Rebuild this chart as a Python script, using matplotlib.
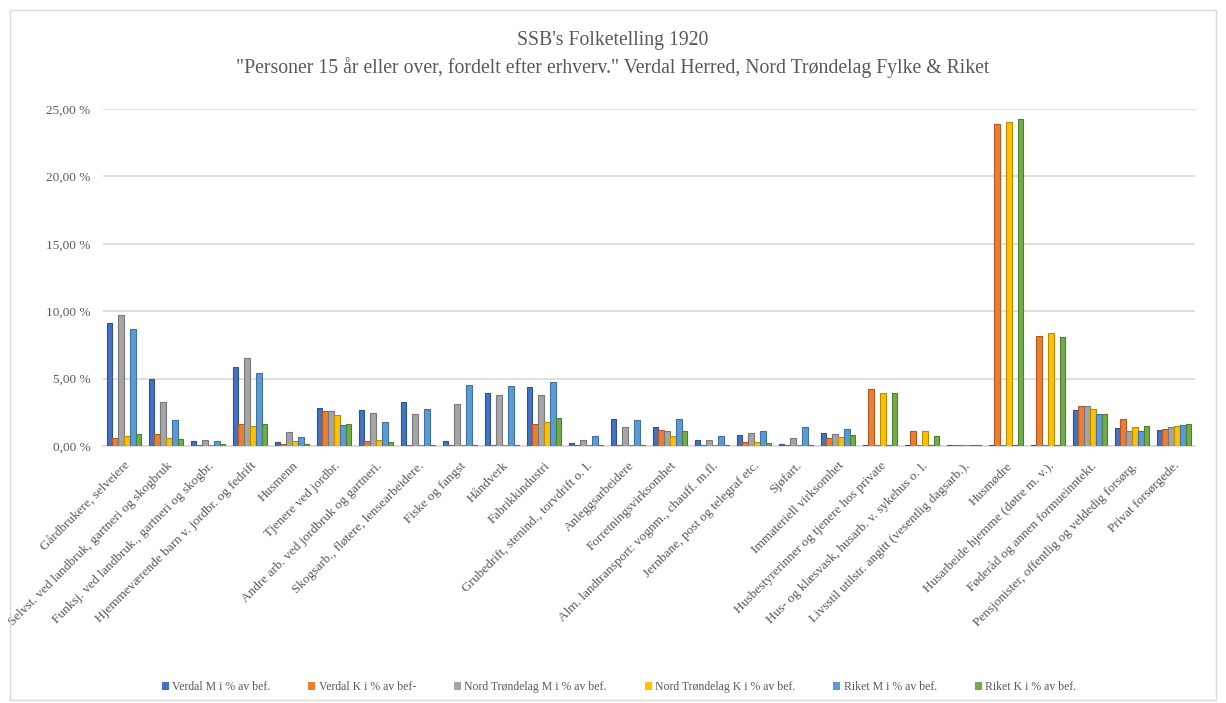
import matplotlib
matplotlib.use("Agg")
import matplotlib.pyplot as plt
import numpy as np
from matplotlib.patches import Rectangle
from matplotlib.ticker import FuncFormatter

categories = [
    "Gårdbrukere, selveiere",
    "Selvst. ved landbruk, gartneri og skogbruk",
    "Funksj. ved landbruk., gartneri og skogbr.",
    "Hjemmeværende barn v. jordbr. og fedrift",
    "Husmenn",
    "Tjenere ved jordbr.",
    "Andre arb. ved jordbruk og gartneri.",
    "Skogsarb., fløtere, lensearbeidere.",
    "Fiske og fangst",
    "Håndverk",
    "Fabrikkindustri",
    "Grubedrift, stenind., torvdrift o. l.",
    "Anleggsarbeidere",
    "Forretningsvirksomhet",
    "Alm. landtransport: vognm., chauff. m.fl.",
    "Jernbane, post og telegraf etc.",
    "Sjøfart.",
    "Immateriell virksomhet",
    "Husbestyrerinner og tjenere hos private",
    "Hus- og klæsvask, husarb. v. sykehus o. l.",
    "Livsstil utilstr. angitt (vesentlig dagsarb.).",
    "Husmødre",
    "Husarbeide hjemme (døtre m. v.).",
    "Føderåd og annen formueinntekt.",
    "Pensjonister, offentlig og veldedig forsørg.",
    "Privat forsørgede.",
]

series_names = [
    "Verdal M i % av bef.",
    "Verdal K i % av bef-",
    "Nord Trøndelag M i % av bef.",
    "Nord Trøndelag K i % av bef.",
    "Riket M i % av bef.",
    "Riket K i % av bef.",
]

verdal_m = [9.1, 5.0, 0.35, 5.85, 0.33, 2.85, 2.65, 3.25, 0.37, 3.95, 4.35, 0.24, 2.0,
            1.43, 0.47, 0.8, 0.12, 1.0, 0.05, 0.05, 0.08, 0.05, 0.05, 2.7, 1.34, 1.16]
verdal_k = [0.62, 0.92, 0.1, 1.6, 0.15, 2.6, 0.37, 0.05, 0.05, 0.05, 1.63, 0.05, 0.05,
            1.18, 0.05, 0.32, 0.05, 0.6, 4.23, 1.11, 0.08, 23.87, 8.15, 2.97, 2.03, 1.26]
nord_m = [9.7, 3.26, 0.42, 6.5, 1.04, 2.57, 2.47, 2.37, 3.1, 3.78, 3.78, 0.45, 1.43,
          1.09, 0.45, 0.94, 0.57, 0.9, 0.05, 0.05, 0.08, 0.05, 0.05, 2.97, 1.11, 1.39]
nord_k = [0.77, 0.6, 0.1, 1.5, 0.4, 2.33, 0.42, 0.05, 0.05, 0.05, 1.78, 0.05, 0.05,
          0.77, 0.05, 0.3, 0.05, 0.7, 3.96, 1.09, 0.08, 24.0, 8.4, 2.77, 1.41, 1.46]
riket_m = [8.7, 1.9, 0.35, 5.4, 0.7, 1.54, 1.78, 2.74, 4.5, 4.43, 4.73, 0.72, 1.93,
           1.98, 0.74, 1.1, 1.43, 1.24, 0.05, 0.05, 0.08, 0.05, 0.05, 2.35, 1.11, 1.59]
riket_k = [0.89, 0.5, 0.15, 1.6, 0.15, 1.66, 0.3, 0.05, 0.05, 0.05, 2.1, 0.05, 0.05,
           1.1, 0.05, 0.2, 0.05, 0.8, 3.96, 0.72, 0.08, 24.24, 8.1, 2.4, 1.46, 1.66]

series_values = [verdal_m, verdal_k, nord_m, nord_k, riket_m, riket_k]
colors = ["#4472C4", "#ED7D31", "#A5A5A5", "#FFC000", "#5B9BD5", "#70AD47"]
edge_colors = ["#2F528F", "#AE5A21", "#787878", "#BC8C00", "#41719C", "#507E32"]

plt.rcParams['font.family'] = ['Liberation Serif', 'DejaVu Serif']
text_color = "#595959"

fig = plt.figure(figsize=(12.26, 7.03), dpi=100)
ax = fig.add_axes([103 / 1226, 1 - 446 / 703, (1195 - 103) / 1226, (446 - 109) / 703])

x = np.arange(len(categories))
bw = 0.14
for i, (vals, c, ec, name) in enumerate(zip(series_values, colors, edge_colors, series_names)):
    offs = (i - 2.5) * bw
    ax.bar(x + offs, vals, width=bw * 0.92, color=c, edgecolor=ec, linewidth=0.8,
           label=name, zorder=3)

ax.set_xlim(-0.5, len(categories) - 0.5)
ax.set_ylim(0, 25)
ax.set_yticks(np.arange(0, 26, 5))
ax.yaxis.set_major_formatter(FuncFormatter(lambda v, p: f"{v:.2f}".replace(".", ",") + " %"))
ax.grid(axis='y', color="#D9D9D9", linewidth=1.2, zorder=0)
for s in ['top', 'right', 'left']:
    ax.spines[s].set_visible(False)
ax.spines['bottom'].set_color("#D9D9D9")
ax.spines['bottom'].set_linewidth(1.2)
ax.tick_params(axis='both', length=0, colors=text_color, labelsize=9.5)
ax.tick_params(axis='y', pad=9)
ax.set_xticks(x)
ax.set_xticklabels(categories, rotation=45, ha='right', rotation_mode='anchor',
                   fontsize=9.5, color=text_color)
ax.tick_params(axis='x', pad=10)

fig.text(0.5, 1 - 40 / 703, "SSB's Folketelling 1920", ha='center', va='center',
         fontsize=14.2, color=text_color)
fig.text(0.5, 1 - 68 / 703,
         "\"Personer 15 år eller over, fordelt efter erhverv.\" Verdal Herred, Nord Trøndelag Fylke & Riket",
         ha='center', va='center', fontsize=14.2, color=text_color)

leg = fig.legend(loc='center', bbox_to_anchor=(0.505, 1 - 687 / 703), ncol=6, frameon=False,
                 fontsize=8.5, handlelength=0.6, handleheight=0.6, handletextpad=0.3,
                 columnspacing=3.2, labelcolor=text_color)
for h in leg.legend_handles:
    h.set_linewidth(0)

fig.patches.append(Rectangle((10 / 1226, 1 - 700 / 703), 1206 / 1226, 690 / 703,
                             transform=fig.transFigure, fill=False,
                             edgecolor="#D9D9D9", linewidth=1))

fig.savefig("out.png", dpi=100, facecolor="white")
